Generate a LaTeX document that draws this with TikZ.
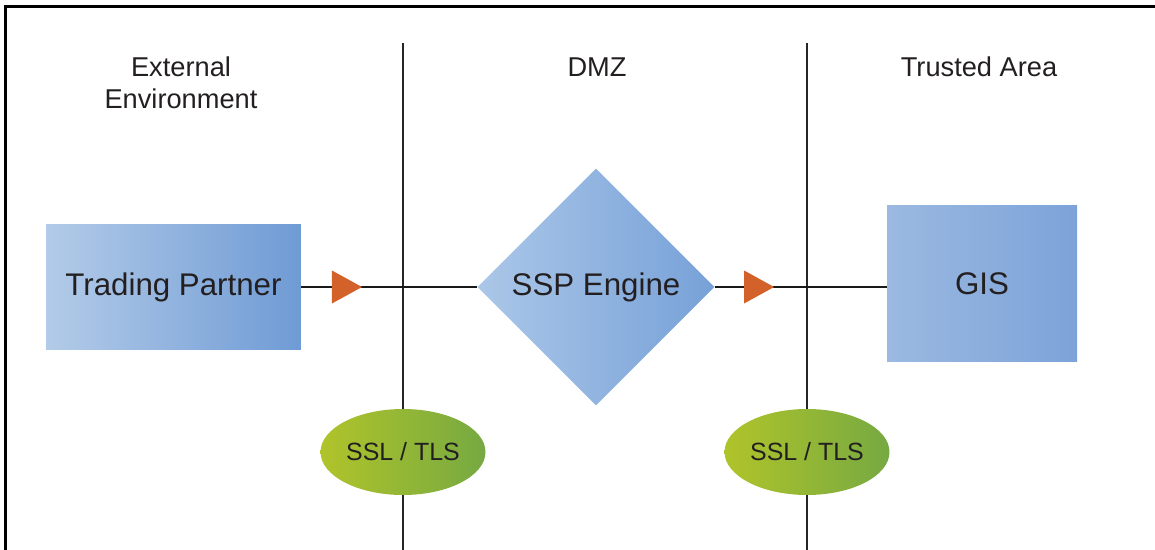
\documentclass[tikz,border=0pt]{standalone}
\usepackage{fontspec}
\setmainfont{Liberation Sans}
\usetikzlibrary{shapes.geometric, arrows.meta, decorations.markings}

\definecolor{textgray}{HTML}{231F20}
\definecolor{partnerA}{HTML}{B3CBE8}
\definecolor{partnerB}{HTML}{6F9BD5}
\definecolor{engineA}{HTML}{ABC7E8}
\definecolor{engineB}{HTML}{77A1D8}
\definecolor{gisA}{HTML}{9BB9E1}
\definecolor{gisB}{HTML}{7CA3D9}
\definecolor{tlsA}{HTML}{B0C42A}
\definecolor{tlsB}{HTML}{76A942}
\definecolor{flow}{HTML}{D2622A}

\begin{document}
\begin{tikzpicture}[
  x=0.02cm, y=-0.02cm,
  every node/.style={align=center, text=textgray, inner sep=0pt},
  area/.style={font=\fontsize{15.5}{18}\selectfont},
  partner/.style={rectangle, minimum width=5.1cm, minimum height=2.52cm, left color=partnerA, right color=partnerB, font=\fontsize{17.8}{21}\selectfont},
  engine/.style={diamond, minimum width=4.74cm, minimum height=4.74cm, left color=engineA, right color=engineB, font=\fontsize{17.8}{21}\selectfont},
  server/.style={rectangle, minimum width=3.8cm, minimum height=3.14cm, left color=gisA, right color=gisB, font=\fontsize{17.8}{21}\selectfont},
  secure/.style={ellipse, minimum width=3.3cm, minimum height=1.72cm, left color=tlsA, right color=tlsB, font=\fontsize{14.2}{17}\selectfont},
  frame/.style={line width=0.06cm, black},
  zone/.style={line width=0.03cm, black!85},
  link/.style={line width=0.035cm, black!90, postaction={decorate},
    decoration={markings, mark=at position 0.345 with {\arrow{Triangle[length=0.6cm, width=0.66cm, color=flow, line width=0pt]}}}}
]
\useasboundingbox (0,0) rectangle (1155,550);

% Frame
\draw[frame] (5.5,550) |- (1155,6.5);

% Zone borders
\coordinate (z1t) at (403,43);
\coordinate (z1b) at (403,550);
\coordinate (z2t) at (807,43);
\coordinate (z2b) at (807,550);
\draw[zone] (z1t) -- (z1b);
\draw[zone] (z2t) -- (z2b);

% Zone titles
\node[area] (ext) at (181,83) {External\\Environment};
\node[area] (dmz) at (597,67) {DMZ};
\node[area] (trust) at (979,67) {Trusted Area};

% Systems
\node[partner] (tp) at (173.5,287) {Trading Partner};
\node[engine] (ssp) at (596,287) {SSP Engine};
\node[server] (gis) at (982,283.5) {GIS};

% Secure channels
\node[secure] (ssl1) at (403,452) {SSL / TLS};
\node[secure] (ssl2) at (807,452) {SSL / TLS};

% Connections
\draw[link] (tp) -- (ssp);
\draw[link] (ssp) -- (ssp -| gis.west);

\end{tikzpicture}
\end{document}
